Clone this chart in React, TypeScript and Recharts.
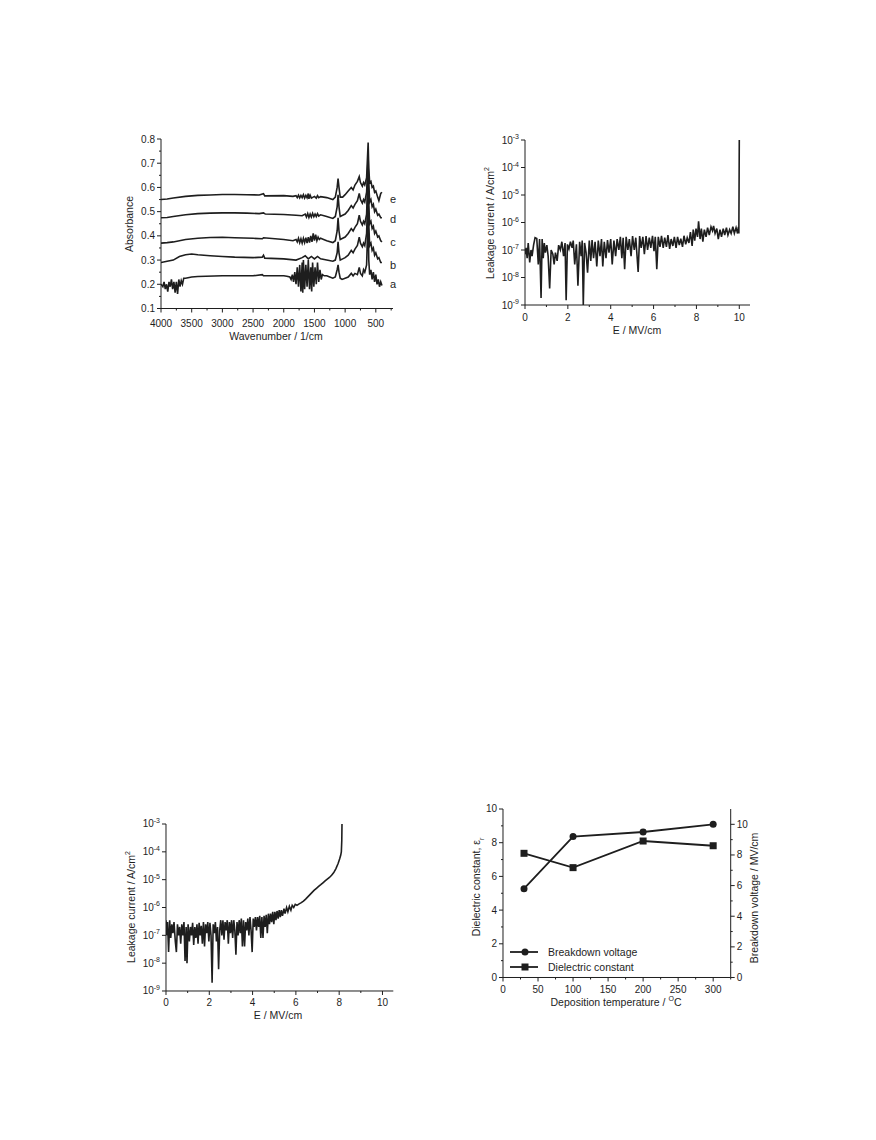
import React from "react";
import { LineChart, Line, XAxis, YAxis } from "recharts";

const FONT = "'Liberation Sans', Arial, Helvetica, sans-serif";
const INK = "#1e1e1e";

// ---- FTIR spectra: [wavenumber, absorbance] ----
const ftirA: [number, number][] = [
  [4000, 0.2], [3970, 0.19], [3950, 0.21], [3930, 0.18], [3910, 0.2], [3890, 0.17], [3870, 0.21],
  [3850, 0.19], [3830, 0.22], [3810, 0.18], [3790, 0.21], [3770, 0.165], [3750, 0.21], [3730, 0.16],
  [3710, 0.22], [3690, 0.19], [3670, 0.215], [3650, 0.2], [3630, 0.225], [3600, 0.225], [3500, 0.23],
  [3400, 0.232], [3000, 0.235], [2500, 0.235], [2350, 0.24], [2330, 0.235], [2000, 0.235], [1950, 0.233],
  [1900, 0.23], [1880, 0.22], [1860, 0.24], [1840, 0.21], [1820, 0.25], [1800, 0.2], [1780, 0.27],
  [1760, 0.19], [1740, 0.28], [1720, 0.17], [1700, 0.29], [1690, 0.165], [1680, 0.3], [1660, 0.18],
  [1640, 0.28], [1620, 0.19], [1600, 0.3], [1580, 0.18], [1560, 0.27], [1545, 0.17], [1530, 0.29],
  [1510, 0.19], [1490, 0.27], [1470, 0.2], [1450, 0.29], [1430, 0.21], [1410, 0.26], [1390, 0.22],
  [1370, 0.24], [1340, 0.235], [1300, 0.235], [1250, 0.23], [1200, 0.225], [1160, 0.23], [1130, 0.26],
  [1115, 0.28], [1100, 0.25], [1080, 0.225], [1050, 0.22], [1000, 0.225], [950, 0.23], [900, 0.245],
  [870, 0.235], [840, 0.245], [800, 0.24], [770, 0.27], [750, 0.245], [720, 0.235], [700, 0.26],
  [680, 0.25], [650, 0.28], [625, 0.5], [615, 0.3], [600, 0.24], [580, 0.26], [560, 0.22], [540, 0.25],
  [520, 0.21], [500, 0.24], [480, 0.2], [460, 0.22], [440, 0.19], [420, 0.21], [400, 0.195],
];
const ftirB: [number, number][] = [
  [4000, 0.29], [3900, 0.295], [3800, 0.3], [3700, 0.315], [3600, 0.322], [3500, 0.325], [3400, 0.322],
  [3200, 0.318], [3000, 0.315], [2800, 0.312], [2500, 0.31], [2350, 0.312], [2330, 0.32], [2310, 0.308],
  [2000, 0.305], [1800, 0.3], [1700, 0.31], [1650, 0.318], [1600, 0.305], [1550, 0.315], [1500, 0.305],
  [1450, 0.315], [1400, 0.305], [1300, 0.3], [1200, 0.295], [1160, 0.3], [1130, 0.33], [1115, 0.375],
  [1100, 0.33], [1080, 0.3], [1040, 0.305], [1000, 0.31], [950, 0.32], [900, 0.34], [870, 0.33],
  [840, 0.345], [800, 0.36], [770, 0.395], [750, 0.37], [720, 0.355], [700, 0.37], [680, 0.36],
  [650, 0.41], [625, 0.62], [615, 0.45], [600, 0.36], [580, 0.37], [560, 0.34], [540, 0.35], [520, 0.32],
  [500, 0.33], [470, 0.305], [450, 0.31], [420, 0.29], [400, 0.29],
];
const ftirC: [number, number][] = [
  [4000, 0.37], [3900, 0.372], [3800, 0.375], [3600, 0.385], [3400, 0.39], [3200, 0.393], [3000, 0.394],
  [2800, 0.392], [2500, 0.39], [2350, 0.388], [2330, 0.392], [2000, 0.385], [1850, 0.38], [1800, 0.385],
  [1780, 0.375], [1760, 0.39], [1740, 0.372], [1720, 0.388], [1700, 0.37], [1680, 0.39], [1660, 0.372],
  [1640, 0.392], [1620, 0.37], [1600, 0.395], [1580, 0.372], [1560, 0.4], [1540, 0.375], [1520, 0.41],
  [1500, 0.38], [1480, 0.405], [1460, 0.38], [1440, 0.395], [1420, 0.385], [1400, 0.39], [1350, 0.385],
  [1300, 0.38], [1200, 0.372], [1160, 0.38], [1130, 0.42], [1115, 0.475], [1100, 0.42], [1080, 0.385],
  [1040, 0.39], [1000, 0.395], [950, 0.41], [900, 0.43], [870, 0.42], [840, 0.435], [800, 0.45],
  [770, 0.485], [750, 0.46], [720, 0.445], [700, 0.46], [680, 0.45], [650, 0.49], [625, 0.68],
  [615, 0.53], [600, 0.45], [580, 0.46], [560, 0.43], [540, 0.44], [520, 0.41], [500, 0.42],
  [470, 0.395], [450, 0.4], [420, 0.38], [400, 0.375],
];
const ftirD: [number, number][] = [
  [4000, 0.475], [3900, 0.476], [3800, 0.48], [3600, 0.487], [3400, 0.492], [3200, 0.494], [3000, 0.495],
  [2800, 0.495], [2600, 0.494], [2400, 0.492], [2330, 0.495], [2300, 0.49], [2000, 0.488], [1800, 0.485],
  [1700, 0.483], [1650, 0.49], [1630, 0.478], [1610, 0.492], [1590, 0.476], [1570, 0.49], [1550, 0.478],
  [1530, 0.493], [1510, 0.479], [1490, 0.49], [1470, 0.48], [1450, 0.492], [1430, 0.482], [1400, 0.487],
  [1300, 0.48], [1200, 0.472], [1160, 0.48], [1130, 0.52], [1115, 0.57], [1100, 0.52], [1080, 0.48],
  [1040, 0.485], [1000, 0.49], [950, 0.505], [900, 0.525], [870, 0.515], [840, 0.53], [800, 0.545],
  [770, 0.575], [750, 0.55], [720, 0.535], [700, 0.55], [680, 0.54], [650, 0.58], [625, 0.73],
  [615, 0.62], [600, 0.54], [580, 0.55], [560, 0.52], [540, 0.53], [520, 0.5], [500, 0.51],
  [470, 0.485], [450, 0.49], [420, 0.475], [400, 0.475],
];
const ftirE: [number, number][] = [
  [4000, 0.55], [3900, 0.552], [3800, 0.556], [3600, 0.563], [3400, 0.567], [3200, 0.569], [3000, 0.571],
  [2800, 0.571], [2600, 0.57], [2400, 0.569], [2330, 0.574], [2310, 0.565], [2000, 0.566], [1850, 0.563],
  [1800, 0.566], [1780, 0.558], [1760, 0.568], [1740, 0.557], [1720, 0.567], [1700, 0.558], [1680, 0.57],
  [1660, 0.556], [1640, 0.567], [1620, 0.557], [1600, 0.575], [1590, 0.553], [1570, 0.568], [1550, 0.556],
  [1500, 0.563], [1470, 0.556], [1450, 0.566], [1430, 0.558], [1400, 0.562], [1300, 0.558], [1200, 0.55],
  [1160, 0.56], [1130, 0.6], [1115, 0.637], [1100, 0.6], [1080, 0.56], [1040, 0.56], [1000, 0.57],
  [950, 0.585], [900, 0.6], [870, 0.59], [840, 0.61], [800, 0.625], [770, 0.645], [750, 0.62],
  [720, 0.605], [700, 0.62], [680, 0.61], [650, 0.64], [625, 0.785], [615, 0.68], [600, 0.62],
  [580, 0.625], [560, 0.6], [540, 0.605], [520, 0.58], [500, 0.585], [470, 0.56], [450, 0.545],
  [420, 0.575], [400, 0.58],
];
const ftirSeries = [ftirA, ftirB, ftirC, ftirD, ftirE];
const ftirNames = ["a", "b", "c", "d", "e"];
const ftirXTicks = [250, 500, 750, 1000, 1250, 1500, 1750, 2000, 2250, 2500, 2750, 3000, 3250, 3500, 3750, 4000];
const ftirXMajors = [500, 1000, 1500, 2000, 2500, 3000, 3500, 4000];
const ftirYTicks = [0.1, 0.15, 0.2, 0.25, 0.3, 0.35, 0.4, 0.45, 0.5, 0.55, 0.6, 0.65, 0.7, 0.75, 0.8];
const ftirYMajors = [0.1, 0.2, 0.3, 0.4, 0.5, 0.6, 0.7, 0.8];

// ---- Leakage current vs field: [E (MV/cm), J (A/cm2)] ----
const leakHigh: [number, number][] = [
  [0, 7e-8], [0.05, 1.2e-7], [0.1, 5e-8], [0.15, 1.8e-7], [0.22, 3.5e-8], [0.28, 1e-7], [0.33, 6e-8],
  [0.4, 1.5e-7], [0.47, 2.8e-7], [0.55, 2.6e-7], [0.62, 3e-8], [0.68, 2.5e-7], [0.75, 1.8e-9],
  [0.8, 2.5e-7], [0.85, 5e-8], [0.9, 1.8e-7], [0.95, 8e-8], [1.02, 1.5e-7], [1.08, 6e-8], [1.15, 4e-9],
  [1.22, 1e-7], [1.3, 7e-8], [1.36, 3e-8], [1.42, 8e-8], [1.5, 4e-8], [1.57, 1.5e-7], [1.65, 1e-7],
  [1.72, 2e-7], [1.8, 6e-8], [1.87, 1.8e-7], [1.92, 1.5e-9], [1.98, 1.6e-7], [2.05, 1.1e-7],
  [2.12, 2e-7], [2.2, 1.2e-7], [2.25, 2.2e-7], [2.32, 3e-8], [2.4, 1.6e-7], [2.47, 5e-9], [2.55, 2e-7],
  [2.62, 6e-8], [2.67, 2.2e-7], [2.72, 1e-9], [2.78, 1.8e-7], [2.85, 8e-8], [2.92, 1.5e-8],
  [3, 2.2e-7], [3.07, 4e-8], [3.13, 2.3e-7], [3.2, 5e-8], [3.27, 2e-7], [3.35, 2.5e-8], [3.42, 2.2e-7],
  [3.5, 6e-8], [3.57, 2.5e-7], [3.63, 2.5e-8], [3.7, 2e-7], [3.78, 5e-8], [3.85, 2.3e-7], [3.92, 8e-8],
  [4, 2.5e-7], [4.07, 3e-8], [4.15, 2.2e-7], [4.23, 6e-8], [4.3, 2.5e-7], [4.38, 1e-7], [4.45, 3e-7],
  [4.52, 5e-8], [4.58, 2.8e-7], [4.65, 2e-8], [4.72, 3e-7], [4.8, 1e-7], [4.87, 2.5e-7], [4.95, 6e-8],
  [5.02, 3.2e-7], [5.1, 1e-7], [5.17, 2.8e-7], [5.28, 1.6e-8], [5.35, 3.2e-7], [5.42, 1.2e-7],
  [5.5, 3e-7], [5.57, 7e-8], [5.65, 3.2e-7], [5.72, 1e-7], [5.8, 2.8e-7], [5.87, 1.2e-7], [5.95, 3.3e-7],
  [6.02, 9e-8], [6.08, 3e-7], [6.15, 2e-8], [6.22, 3e-7], [6.3, 1.3e-7], [6.37, 3.3e-7], [6.45, 1.2e-7],
  [6.52, 2.8e-7], [6.6, 1.3e-7], [6.67, 3.5e-7], [6.75, 1.1e-7], [6.82, 2.5e-7], [6.9, 1.4e-7],
  [6.97, 3e-7], [7.05, 1.2e-7], [7.12, 3e-7], [7.2, 1.5e-7], [7.27, 2.6e-7], [7.35, 1.3e-7],
  [7.42, 3.3e-7], [7.5, 1.6e-7], [7.57, 2.8e-7], [7.65, 1.8e-7], [7.72, 4.5e-7], [7.8, 1.4e-7],
  [7.85, 5.5e-7], [7.92, 2.2e-7], [7.98, 6e-7], [8.05, 3e-7], [8.1, 1.1e-6], [8.17, 2.5e-7],
  [8.23, 6e-7], [8.3, 2e-7], [8.37, 5.5e-7], [8.45, 3e-7], [8.52, 6.5e-7], [8.6, 3.5e-7], [8.68, 7e-7],
  [8.75, 5e-7], [8.8, 7.5e-7], [8.87, 4e-7], [8.95, 6e-7], [9.02, 2.5e-7], [9.1, 5.5e-7], [9.17, 3e-7],
  [9.25, 6e-7], [9.32, 3.5e-7], [9.4, 6.5e-7], [9.47, 3.5e-7], [9.55, 5.5e-7], [9.62, 4e-7],
  [9.7, 7e-7], [9.77, 4e-7], [9.85, 6.5e-7], [9.92, 4e-7], [9.96, 7e-7], [9.98, 4e-7], [10, 1e-3],
];
const leakLow: [number, number][] = [
  [0, 3.5e-7], [0.03, 1e-7], [0.07, 3e-7], [0.12, 2.5e-8], [0.17, 3.5e-7], [0.22, 8e-8], [0.27, 2.5e-7],
  [0.32, 1.2e-7], [0.37, 3e-7], [0.43, 6e-8], [0.48, 2.5e-8], [0.53, 2.5e-7], [0.58, 1e-7], [0.63, 2e-7],
  [0.68, 5e-8], [0.73, 2.5e-7], [0.78, 1e-7], [0.83, 3e-7], [0.88, 1.2e-8], [0.93, 2e-7], [0.97, 1e-8],
  [1.02, 2.5e-7], [1.08, 6e-8], [1.13, 2e-7], [1.18, 1e-7], [1.23, 2.8e-7], [1.28, 4.5e-8], [1.33, 2e-7],
  [1.38, 8e-8], [1.43, 2.5e-7], [1.48, 5e-8], [1.53, 2.8e-7], [1.58, 1e-7], [1.63, 2.2e-7], [1.68, 5e-8],
  [1.73, 3e-7], [1.78, 4e-8], [1.83, 2.5e-7], [1.88, 1.2e-7], [1.93, 3e-7], [1.98, 6e-8], [2.03, 2.8e-7],
  [2.08, 1e-7], [2.13, 2e-9], [2.18, 2.5e-7], [2.23, 1.2e-7], [2.28, 3e-7], [2.33, 6e-8], [2.38, 2e-7],
  [2.43, 6e-9], [2.48, 1.5e-7], [2.53, 3.5e-7], [2.58, 1e-7], [2.63, 3.5e-7], [2.68, 7e-8], [2.73, 3e-7],
  [2.78, 1.5e-7], [2.83, 3.5e-7], [2.88, 5e-8], [2.93, 3e-7], [2.98, 1.2e-7], [3.03, 3.5e-7],
  [3.08, 8e-8], [3.13, 3.5e-7], [3.18, 1.5e-7], [3.23, 2e-8], [3.28, 3e-7], [3.33, 1e-7], [3.38, 3.5e-7],
  [3.43, 1.2e-7], [3.48, 4e-7], [3.53, 4e-8], [3.58, 3.5e-7], [3.63, 4e-8], [3.68, 3e-7], [3.73, 1.5e-7],
  [3.78, 4e-7], [3.83, 1e-7], [3.88, 4.5e-7], [3.93, 1.5e-7], [3.98, 2.5e-8], [4.03, 4e-7], [4.08, 2e-7],
  [4.13, 4.5e-7], [4.18, 1.5e-7], [4.23, 4.5e-7], [4.28, 2e-7], [4.33, 5e-7], [4.38, 8e-8],
  [4.43, 4.5e-7], [4.48, 8e-8], [4.53, 5e-7], [4.58, 2e-7], [4.63, 5.5e-7], [4.68, 1.2e-7], [4.73, 6e-7],
  [4.78, 2.5e-7], [4.83, 6e-7], [4.88, 3e-7], [4.93, 7e-7], [4.98, 2.5e-7], [5.03, 7e-7], [5.08, 3.5e-7],
  [5.13, 7.5e-7], [5.18, 4e-7], [5.23, 8e-7], [5.28, 4.5e-7], [5.33, 8e-7], [5.38, 5e-7], [5.45, 9e-7],
  [5.5, 6e-7], [5.57, 1e-6], [5.63, 7e-7], [5.7, 1.1e-6], [5.77, 8e-7], [5.83, 1.2e-6], [5.9, 1e-6],
  [5.97, 1.3e-6], [6.05, 1.2e-6], [6.15, 1.35e-6], [6.25, 1.5e-6], [6.35, 1.7e-6], [6.45, 2e-6],
  [6.55, 2.4e-6], [6.65, 2.9e-6], [6.75, 3.5e-6], [6.85, 4.2e-6], [6.95, 4.9e-6], [7.05, 5.7e-6],
  [7.15, 6.6e-6], [7.25, 7.7e-6], [7.35, 9e-6], [7.45, 1.05e-5], [7.55, 1.2e-5], [7.65, 1.45e-5],
  [7.75, 1.8e-5], [7.85, 2.5e-5], [7.95, 3.8e-5], [8.02, 5.5e-5], [8.07, 7.5e-5], [8.1, 1e-4],
  [8.12, 2.5e-4], [8.13, 1e-3],
];
const fieldTicks = [0, 1, 2, 3, 4, 5, 6, 7, 8, 9, 10];
const fieldMajors = [0, 2, 4, 6, 8, 10];
const leakTicks = [1e-9, 1e-8, 1e-7, 1e-6, 1e-5, 1e-4, 1e-3];

// ---- Dielectric properties vs deposition temperature ----
const depTemps = [30, 100, 200, 300];
const breakdownVoltage = [5.8, 9.2, 9.5, 10.0];
const dielectricConstant = [7.37, 6.52, 8.1, 7.82];
const tempTicks = [0, 25, 50, 75, 100, 125, 150, 175, 200, 225, 250, 275, 300, 325];
const tempMajors = [0, 50, 100, 150, 200, 250, 300];
const tenTicks = [0, 1, 2, 3, 4, 5, 6, 7, 8, 9, 10];
const tenMajors = [0, 2, 4, 6, 8, 10];

const toPoints = (rows: [number, number][]) => rows.map(([x, y]) => ({ x, y }));
const dielData = depTemps.map((t, i) => ({ t, bv: breakdownVoltage[i], k: dielectricConstant[i] }));

type Side = "bottom" | "left" | "right" | "top";

function makeTick(side: Side, majors: number[], fmt: ((v: number) => React.ReactNode) | null, gap = 12) {
  return function Tick(props: any) {
    const { x, y, payload } = props;
    const v: number = payload.value;
    const major = majors.includes(v);
    const len = major ? 4 : 2;
    let line: React.ReactNode = null;
    let label: React.ReactNode = null;
    const txt = { fontSize: 10, fontFamily: FONT, fill: INK } as const;
    if (side === "bottom") {
      line = <line x1={x} y1={y} x2={x} y2={y + len} />;
      if (major && fmt)
        label = (
          <text x={x} y={y + gap} textAnchor="middle" dominantBaseline="central" {...txt}>
            {fmt(v)}
          </text>
        );
    } else if (side === "left") {
      line = <line x1={x} y1={y} x2={x - len} y2={y} />;
      if (major && fmt)
        label = (
          <text x={x - 6} y={y} textAnchor="end" dominantBaseline="central" {...txt}>
            {fmt(v)}
          </text>
        );
    } else if (side === "right") {
      line = <line x1={x} y1={y} x2={x + len} y2={y} />;
      if (major && fmt)
        label = (
          <text x={x + 6} y={y} textAnchor="start" dominantBaseline="central" {...txt}>
            {fmt(v)}
          </text>
        );
    } else {
      line = <line x1={x} y1={y} x2={x} y2={y + len - 1} />;
    }
    return (
      <g>
        <g stroke={INK} strokeWidth={1}>{line}</g>
        {label}
      </g>
    );
  };
}

const fmtPlain = (v: number) => String(v);
const fmtOne = (v: number) => v.toFixed(1);
const fmtPow = (v: number) => {
  const e = Math.round(Math.log10(v));
  return (
    <>
      10
      <tspan dy={-4} fontSize={7}>
        {e}
      </tspan>
    </>
  );
};

function Txt(props: { x: number; y: number; rotate?: boolean; size?: number; children: React.ReactNode }) {
  const { x, y, rotate, size = 10.5, children } = props;
  return (
    <div
      style={{
        position: "absolute",
        left: x,
        top: y,
        transform: `translate(-50%, -50%)${rotate ? " rotate(-90deg)" : ""}`,
        whiteSpace: "nowrap",
        fontFamily: FONT,
        fontSize: size,
        color: INK,
        lineHeight: 1,
      }}
    >
      {children}
    </div>
  );
}

const axisLine = { stroke: INK, strokeWidth: 1 };

function FtirPanel() {
  return (
    <div style={{ position: "absolute", left: 120.7, top: 129 }}>
      <LineChart width={282} height={214.5} margin={{ top: 10, right: 10, bottom: 0, left: 0 }}>
        <XAxis
          dataKey="x"
          type="number"
          domain={[220, 4000]}
          reversed
          ticks={ftirXTicks}
          interval={0}
          height={35}
          tickSize={0}
          tickMargin={0}
          tickLine={false}
          axisLine={axisLine}
          tick={makeTick("bottom", ftirXMajors, fmtPlain, 14.5)}
          allowDataOverflow
        />
        <YAxis
          type="number"
          domain={[0.1, 0.8]}
          ticks={ftirYTicks}
          interval={0}
          width={40}
          tickSize={0}
          tickMargin={0}
          tickLine={false}
          axisLine={axisLine}
          tick={makeTick("left", ftirYMajors, fmtOne)}
          allowDataOverflow
        />
        {ftirSeries.map((s, i) => (
          <Line
            key={ftirNames[i]}
            data={toPoints(s)}
            dataKey="y"
            stroke={INK}
            strokeWidth={1.6}
            dot={false}
            isAnimationActive={false}
            type="linear"
          />
        ))}
      </LineChart>
    </div>
  );
}

function LeakPanel(props: { left: number; top: number; width: number; height: number; rows: [number, number][] }) {
  const { left, top, width, height, rows } = props;
  return (
    <div style={{ position: "absolute", left, top }}>
      <LineChart width={width} height={height} margin={{ top: 10, right: 10, bottom: 0, left: 0 }}>
        <XAxis
          dataKey="x"
          type="number"
          domain={[0, 10.5]}
          ticks={fieldTicks}
          interval={0}
          height={35}
          tickSize={0}
          tickMargin={0}
          tickLine={false}
          axisLine={axisLine}
          tick={makeTick("bottom", fieldMajors, fmtPlain)}
          allowDataOverflow
        />
        <YAxis
          type="number"
          scale="log"
          domain={[1e-9, 1e-3]}
          ticks={leakTicks}
          interval={0}
          width={40}
          tickSize={0}
          tickMargin={0}
          tickLine={false}
          axisLine={axisLine}
          tick={makeTick("left", leakTicks, fmtPow)}
          allowDataOverflow
        />
        <Line
          data={toPoints(rows)}
          dataKey="y"
          stroke={INK}
          strokeWidth={1.6}
          dot={false}
          isAnimationActive={false}
          type="linear"
        />
      </LineChart>
    </div>
  );
}

const squareDot = (p: any) => (
  <rect key={`sq-${p.index}`} x={p.cx - 3.5} y={p.cy - 3.5} width={7} height={7} fill={INK} />
);

function DielectricPanel() {
  return (
    <div style={{ position: "absolute", left: 463.3, top: 799 }}>
      <LineChart width={297.7} height={213.5} data={dielData} margin={{ top: 10, right: 0, bottom: 0, left: 0 }}>
        <XAxis
          dataKey="t"
          type="number"
          domain={[0, 325]}
          ticks={tempTicks}
          interval={0}
          height={35}
          tickSize={0}
          tickMargin={0}
          tickLine={false}
          axisLine={axisLine}
          tick={makeTick("bottom", tempMajors, fmtPlain)}
          allowDataOverflow
        />
        <XAxis
          xAxisId="top"
          orientation="top"
          dataKey="t"
          type="number"
          domain={[0, 325]}
          ticks={tempTicks}
          interval={0}
          height={0}
          tickSize={0}
          tickMargin={0}
          tickLine={false}
          axisLine={axisLine}
          tick={makeTick("top", tempMajors, null)}
          allowDataOverflow
        />
        <YAxis
          yAxisId="left"
          type="number"
          domain={[0, 10]}
          ticks={tenTicks}
          interval={0}
          width={40}
          tickSize={0}
          tickMargin={0}
          tickLine={false}
          axisLine={axisLine}
          tick={makeTick("left", tenMajors, fmtPlain)}
        />
        <YAxis
          yAxisId="right"
          orientation="right"
          type="number"
          domain={[0, 11]}
          ticks={tenTicks}
          interval={0}
          width={30}
          tickSize={0}
          tickMargin={0}
          tickLine={false}
          axisLine={axisLine}
          tick={makeTick("right", tenMajors, fmtPlain)}
        />
        <Line
          yAxisId="right"
          dataKey="bv"
          stroke={INK}
          strokeWidth={1.8}
          dot={{ r: 3.5, fill: INK, stroke: INK, strokeWidth: 0 }}
          isAnimationActive={false}
          type="linear"
        />
        <Line
          yAxisId="left"
          dataKey="k"
          stroke={INK}
          strokeWidth={1.8}
          dot={squareDot}
          isAnimationActive={false}
          type="linear"
        />
      </LineChart>
    </div>
  );
}

function LegendRow(props: { y: number; marker: "circle" | "square"; label: string }) {
  const { y, marker, label } = props;
  return (
    <div style={{ position: "absolute", left: 508, top: y - 6, height: 12, display: "flex", alignItems: "center" }}>
      <svg width={32} height={12} style={{ display: "block" }}>
        <line x1={2} y1={6} x2={30} y2={6} stroke={INK} strokeWidth={1.8} />
        {marker === "circle" ? (
          <circle cx={17} cy={6} r={3.5} fill={INK} />
        ) : (
          <rect x={13.5} y={2.5} width={7} height={7} fill={INK} />
        )}
      </svg>
      <span style={{ marginLeft: 8, fontFamily: FONT, fontSize: 10.5, color: INK, whiteSpace: "nowrap" }}>{label}</span>
    </div>
  );
}

export default function App() {
  return (
    <div style={{ position: "absolute", left: 0, top: 0, width: 876, height: 1140, background: "#fff" }}>
      <FtirPanel />
      <Txt x={129} y={224} rotate>
        Absorbance
      </Txt>
      <Txt x={276} y={335.5}>Wavenumber / 1/cm</Txt>
      {[
        { n: "e", y: 199 },
        { n: "d", y: 219 },
        { n: "c", y: 242 },
        { n: "b", y: 265 },
        { n: "a", y: 284 },
      ].map((l) => (
        <Txt key={l.n} x={393} y={l.y} size={11}>
          {l.n}
        </Txt>
      ))}

      <LeakPanel left={485} top={130} width={275} height={210} rows={leakHigh} />
      <Txt x={489} y={223} rotate>
        Leakage current / A/cm<sup style={{ fontSize: 7 }}>2</sup>
      </Txt>
      <Txt x={637} y={329.5}>E / MV/cm</Txt>

      <LeakPanel left={125.7} top={814} width={277.3} height={212} rows={leakLow} />
      <Txt x={130} y={907} rotate>
        Leakage current / A/cm<sup style={{ fontSize: 7 }}>2</sup>
      </Txt>
      <Txt x={278} y={1015}>E / MV/cm</Txt>

      <DielectricPanel />
      <Txt x={478} y={887} rotate>
        Dielectric constant, ε<sub style={{ fontSize: 7 }}>r</sub>
      </Txt>
      <Txt x={754} y={898} rotate>
        Breakdown voltage / MV/cm
      </Txt>
      <Txt x={616} y={1001}>
        Deposition temperature / <sup style={{ fontSize: 7 }}>O</sup>C
      </Txt>
      <LegendRow y={952} marker="circle" label="Breakdown voltage" />
      <LegendRow y={967} marker="square" label="Dielectric constant" />
    </div>
  );
}
